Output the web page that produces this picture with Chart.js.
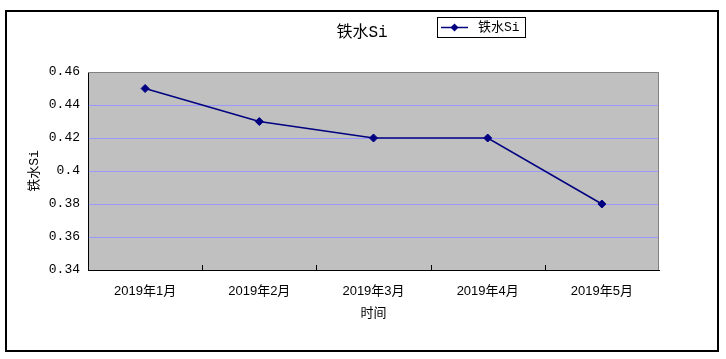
<!DOCTYPE html>
<html>
<head>
<meta charset="utf-8">
<script src="https://cdn.jsdelivr.net/npm/chart.js@4/dist/chart.umd.min.js"></script>
<style>
html,body{margin:0;padding:0;background:#fff;}
canvas{display:block;}
</style>
</head>
<body>
<canvas id="c" width="726" height="359"></canvas>
<script>
const categories = ['2019年1月', '2019年2月', '2019年3月', '2019年4月', '2019年5月'];
const seriesName = '铁水Si';
const siValues = [0.45, 0.43, 0.42, 0.42, 0.38];
const yTicks = [0.34, 0.36, 0.38, 0.40, 0.42, 0.44, 0.46];
const yTickLabels = ['0.34', '0.36', '0.38', '0.4', '0.42', '0.44', '0.46'];
const chartTitle = '铁水Si';
const xAxisTitle = '时间';
const yAxisTitle = '铁水Si';

const CJK = '"Noto Sans CJK SC"';
const lineColor = '#000080';

const decor = {
  id: 'decor',
  beforeDraw(chart) {
    const {ctx, chartArea: a} = chart;
    ctx.save();
    ctx.fillStyle = '#fff';
    ctx.fillRect(0, 0, chart.width, chart.height);
    ctx.strokeStyle = '#000';
    ctx.lineWidth = 2;
    ctx.strokeRect(6, 11, 712, 340);
    ctx.fillStyle = '#C0C0C0';
    ctx.fillRect(a.left, a.top, a.right - a.left, a.bottom - a.top);
    ctx.restore();
  },
  beforeDatasetsDraw(chart) {
    const {ctx, chartArea: a, scales} = chart;
    ctx.save();
    ctx.strokeStyle = '#808080';
    ctx.lineWidth = 1;
    ctx.beginPath();
    ctx.moveTo(a.left, a.top + 0.5);
    ctx.lineTo(a.right - 0.5, a.top + 0.5);
    ctx.lineTo(a.right - 0.5, a.bottom);
    ctx.stroke();
    // inward category tick marks on x axis
    ctx.strokeStyle = '#000';
    ctx.beginPath();
    for (let i = 1; i < categories.length; i++) {
      const x = Math.round(scales.x.getPixelForValue(i - 0.5)) + 0.5;
      ctx.moveTo(x, a.bottom);
      ctx.lineTo(x, a.bottom - 5);
    }
    ctx.stroke();
    ctx.restore();
  },
  afterDraw(chart) {
    const {ctx} = chart;
    ctx.save();
    // title
    ctx.fillStyle = '#000';
    ctx.font = '16px "Liberation Mono", ' + CJK;
    ctx.textAlign = 'center';
    ctx.textBaseline = 'middle';
    ctx.fillText(chartTitle, 362, 33);
    // legend
    const ds = chart.data.datasets[0];
    ctx.strokeStyle = '#000';
    ctx.lineWidth = 1;
    ctx.strokeRect(437.5, 17.5, 88, 20);
    ctx.strokeStyle = ds.borderColor;
    ctx.lineWidth = 1.5;
    ctx.beginPath();
    ctx.moveTo(441, 27.5);
    ctx.lineTo(468, 27.5);
    ctx.stroke();
    ctx.fillStyle = ds.pointBackgroundColor;
    ctx.beginPath();
    ctx.moveTo(454.5, 23.5);
    ctx.lineTo(458.5, 27.5);
    ctx.lineTo(454.5, 31.5);
    ctx.lineTo(450.5, 27.5);
    ctx.closePath();
    ctx.fill();
    ctx.fillStyle = '#000';
    ctx.font = '13px "Liberation Mono", ' + CJK;
    ctx.textAlign = 'left';
    ctx.fillText(ds.label, 478, 28);
    ctx.restore();
  }
};

new Chart(document.getElementById('c'), {
  type: 'line',
  data: {
    labels: categories,
    datasets: [{
      label: seriesName,
      data: siValues,
      borderColor: lineColor,
      backgroundColor: lineColor,
      pointBackgroundColor: lineColor,
      pointBorderColor: lineColor,
      borderWidth: 1.5,
      pointStyle: 'rectRot',
      pointRadius: 4,
      pointBorderWidth: 1,
      tension: 0,
      fill: false
    }]
  },
  options: {
    responsive: false,
    animation: false,
    devicePixelRatio: 1,
    layout: {padding: {top: 72, left: 0, right: 67, bottom: 39}},
    plugins: {
      legend: {display: false},
      title: {display: false},
      tooltip: {enabled: false}
    },
    scales: {
      x: {
        offset: true,
        grid: {display: true, drawOnChartArea: false, drawTicks: false},
        border: {display: true, color: '#000', width: 1},
        ticks: {
          color: '#000',
          padding: 14,
          maxRotation: 0,
          font: {family: '"Liberation Sans", ' + CJK, size: 13}
        },
        title: {
          display: true,
          text: xAxisTitle,
          color: '#000',
          padding: {top: 0, bottom: 0},
          font: {family: CJK, size: 13}
        },
        afterFit(s) { s.height = 50; }
      },
      y: {
        min: 0.34,
        max: 0.46,
        afterBuildTicks(s) { s.ticks = yTicks.map(v => ({value: v})); },
        grid: {color: '#9999FF', lineWidth: 1, drawTicks: false},
        border: {display: true, color: '#000', width: 1},
        ticks: {
          color: '#000',
          padding: 8,
          font: {family: '"Liberation Mono", ' + CJK, size: 13},
          callback(v) {
            const i = yTicks.findIndex(t => Math.abs(t - v) < 1e-9);
            return i >= 0 ? yTickLabels[i] : '';
          }
        },
        title: {
          display: true,
          text: yAxisTitle,
          color: '#000',
          padding: {top: 27, bottom: 0},
          font: {family: '"Liberation Mono", ' + CJK, size: 13}
        },
        afterFit(s) { s.width = 88; }
      }
    }
  },
  plugins: [decor]
});
</script>
</body>
</html>
